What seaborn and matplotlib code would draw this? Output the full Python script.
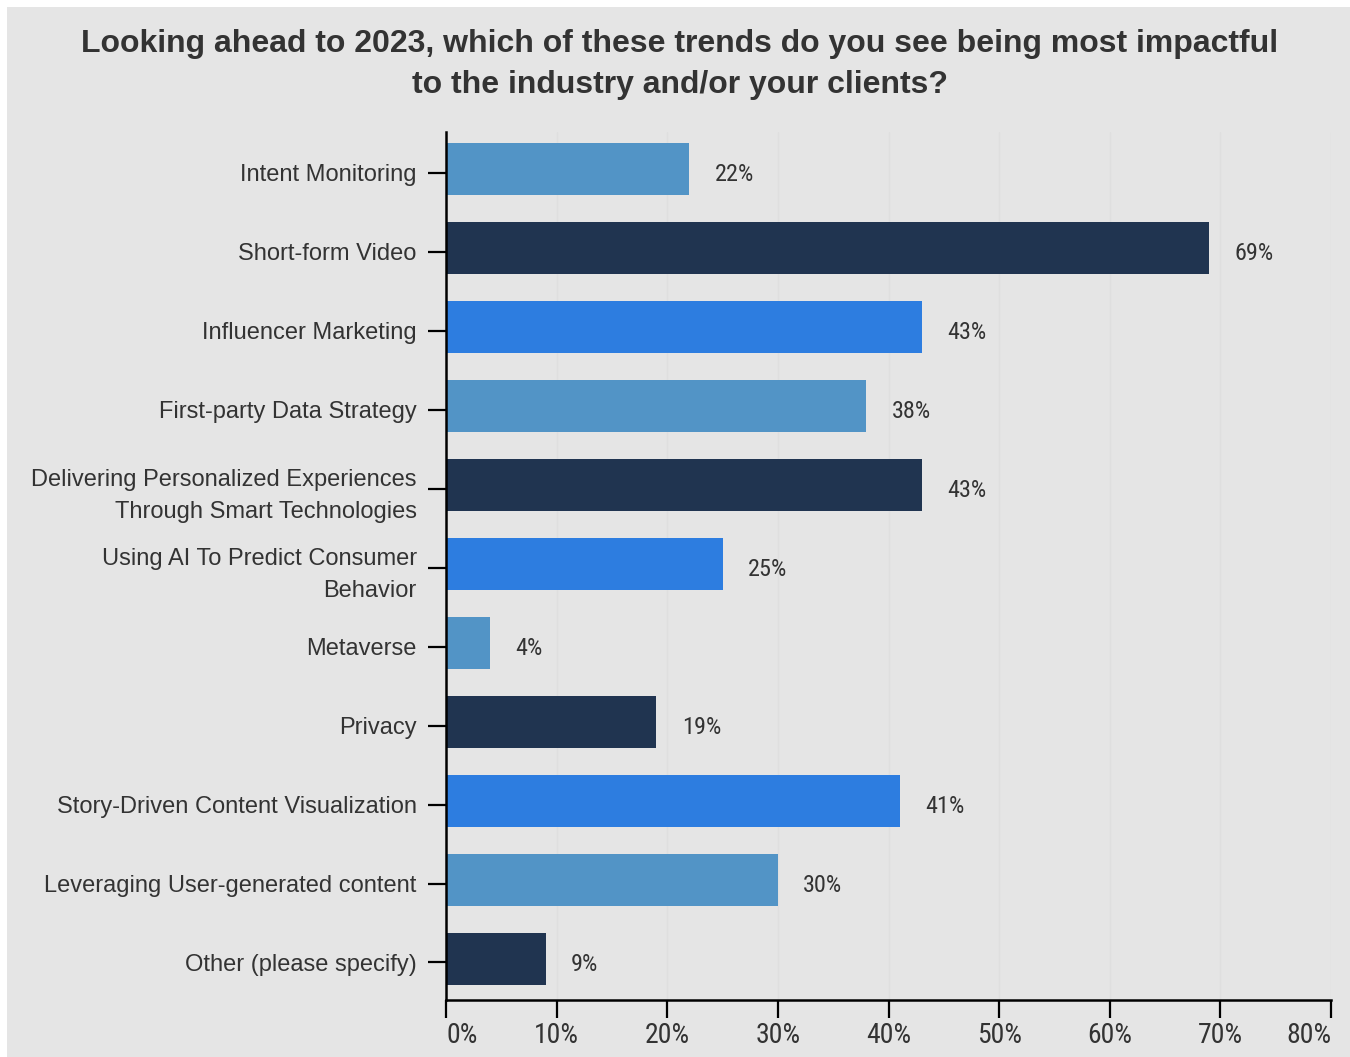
import matplotlib
matplotlib.use("Agg")
import matplotlib.pyplot as plt
import seaborn as sns
import pandas as pd
from matplotlib.patches import Rectangle

categories = [
    "Intent Monitoring",
    "Short-form Video",
    "Influencer Marketing",
    "First-party Data Strategy",
    "Delivering Personalized Experiences\nThrough Smart Technologies",
    "Using AI To Predict Consumer\nBehavior",
    "Metaverse",
    "Privacy",
    "Story-Driven Content Visualization",
    "Leveraging User-generated content",
    "Other (please specify)",
]
values = [22, 69, 43, 38, 43, 25, 4, 19, 41, 30, 9]
tick_values = [0, 10, 20, 30, 40, 50, 60, 70, 80]
tick_labels = ["0%", "10%", "20%", "30%", "40%", "50%", "60%", "70%", "80%"]

bar_cycle = ["#5294c6", "#203450", "#2d7de0"]
palette = [bar_cycle[i % 3] for i in range(len(categories))]

BG = "#e5e5e5"
TEXT = "#333333"
NARROW = ["Roboto Condensed", "DejaVu Sans"]
SANS = ["Liberation Sans", "DejaVu Sans"]

sns.set_theme(style="white")
plt.rcParams["font.family"] = SANS

df = pd.DataFrame({"trend": categories, "share": values})

fig = plt.figure(figsize=(13.5, 10.57), dpi=100, facecolor=BG)
# thin white frame along the top and left edges
fig.patches.append(Rectangle((0, 0), 1, 1, transform=fig.transFigure,
                             facecolor="white", edgecolor="none", zorder=-3))
fig.patches.append(Rectangle((7 / 1350, 0), 1, 1 - 7 / 1057, transform=fig.transFigure,
                             facecolor=BG, edgecolor="none", zorder=-2))

ax = fig.add_axes([446 / 1350, 1 - 1000 / 1057, 885 / 1350, 868 / 1057])
ax.set_facecolor(BG)

sns.barplot(data=df, y="trend", x="share", hue="trend", palette=palette,
            legend=False, width=0.66, saturation=1, linewidth=0,
            edgecolor="none", ax=ax, zorder=2)

ax.set_xlim(0, 80)
ax.set_ylim(len(categories) - 0.48, -0.47)

# faint vertical grid
for t in tick_values[1:]:
    ax.axvline(t, color="#dfdfdf", lw=1, zorder=0)

for i, v in enumerate(values):
    ax.text(v + 2.3, i + 0.07, f"{v}%", va="center", ha="left", fontsize=17.5,
            color=TEXT, family=NARROW)

ax.set_xticks(tick_values)
ax.set_xticklabels(tick_labels, family=NARROW, fontsize=20, color=TEXT)
xl = ax.get_xticklabels()
xl[0].set_ha("left")
xl[-1].set_ha("right")

# category ticks sit a touch below the bar centres
ax.set_yticks([i + 0.045 for i in range(len(categories))])
ax.set_yticklabels(categories, fontsize=17, color=TEXT)
for lab in ax.get_yticklabels():
    lab.set_linespacing(1.6)
    lab.set_ha("right")

ax.tick_params(axis="both", length=13, width=1.6, color="black", pad=8,
               left=True, bottom=True)
ax.tick_params(axis="x", pad=3)

for s in ["top", "right"]:
    ax.spines[s].set_visible(False)
for s in ["left", "bottom"]:
    ax.spines[s].set_color("black")
    ax.spines[s].set_linewidth(1.8)

ax.set_xlabel("")
ax.set_ylabel("")

fig.text(680 / 1350, 1 - 64.5 / 1057,
         "Looking ahead to 2023, which of these trends do you see being most impactful\nto the industry and/or your clients?",
         ha="center", va="center", fontsize=23, fontweight="bold", color=TEXT,
         linespacing=1.45)

fig.savefig("out.png", dpi=100, facecolor=BG)
